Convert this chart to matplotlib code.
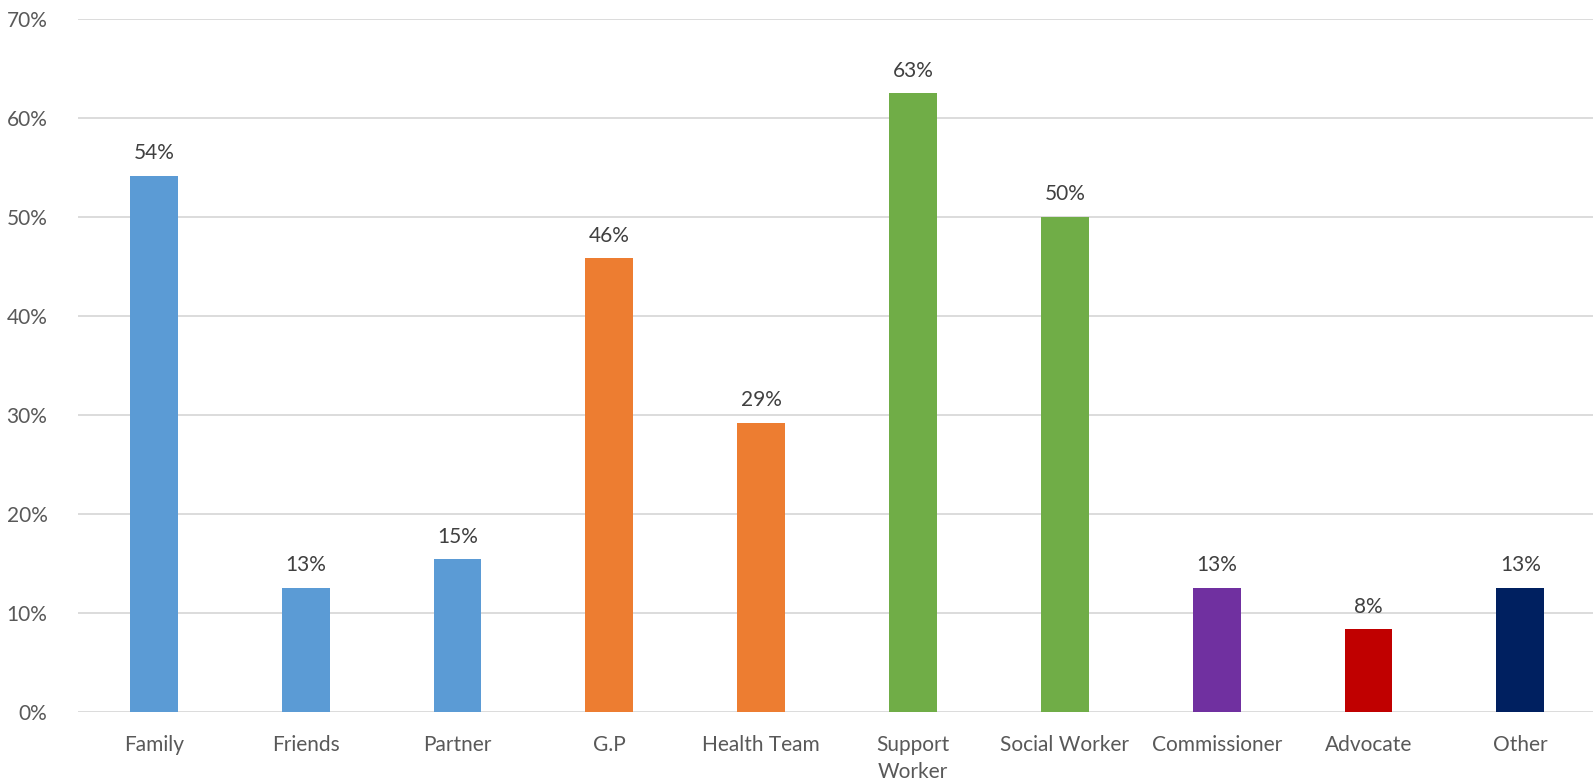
import numpy as np
import matplotlib.pyplot as plt

categories = ["Family", "Friends", "Partner", "G.P", "Health Team",
              "Support\nWorker", "Social Worker", "Commissioner", "Advocate", "Other"]
values = [54.17, 12.5, 15.4, 45.83, 29.17, 62.5, 50.0, 12.5, 8.33, 12.5]
colours = ["#5B9BD5", "#5B9BD5", "#5B9BD5", "#ED7D31", "#ED7D31",
           "#70AD47", "#70AD47", "#7030A0", "#C00000", "#002060"]

plt.rcParams['font.family'] = ['Lato', 'DejaVu Sans']
txt = "#595959"

fig = plt.figure(figsize=(15.93, 7.82), dpi=100)
ax = fig.add_axes([78 / 1593, 1 - 711.5 / 782, 1 - 78 / 1593 + 0.002, (711.5 - 19) / 782])

x = np.arange(len(categories))
bars = ax.bar(x, values, width=0.315, color=colours, zorder=3)

# labels round half up, like a spreadsheet would
for b, v in zip(bars, values):
    ax.annotate(f"{int(v + 0.5)}%", (b.get_x() + b.get_width() / 2, v),
                xytext=(0, 9), textcoords="offset points",
                ha="center", va="bottom", fontsize=15, color="#404040")

ax.set_ylim(0, 70)
ax.set_xlim(-0.5, 9.5)
ax.set_yticks(range(0, 71, 10))
ax.set_yticklabels([f"{t}%" for t in range(0, 71, 10)])
ax.set_xticks(x)
ax.set_xticklabels(categories, linespacing=1.45)
ax.tick_params(axis="both", length=0, labelsize=15, colors=txt)
ax.tick_params(axis="y", pad=22)
ax.tick_params(axis="x", pad=17)
ax.grid(axis="y", color="#d9d9d9", linewidth=1.3, zorder=0)
for s in ax.spines.values():
    s.set_visible(False)

fig.savefig("out.png", dpi=100)
